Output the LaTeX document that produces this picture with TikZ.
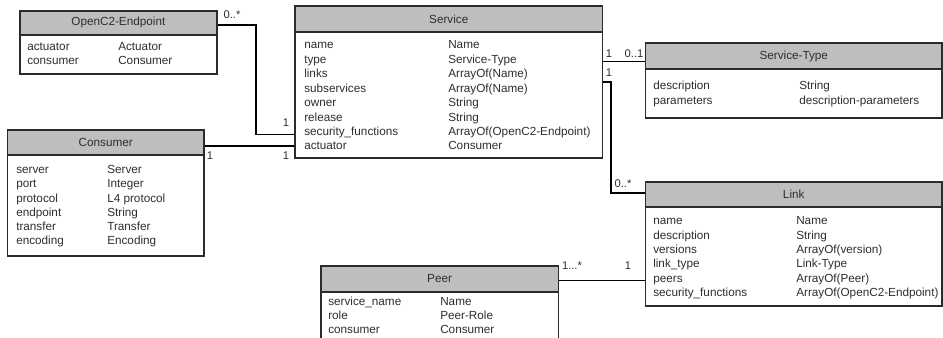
\documentclass[tikz,border=0pt]{standalone}
\usepackage{fontspec}
\setmainfont{Liberation Sans}
\usetikzlibrary{fit}

\definecolor{boxline}{HTML}{2B2B2B}
\definecolor{headgray}{HTML}{BEBEBE}
\definecolor{txt}{HTML}{2E2E2E}

% class box: name, left, top, right, header bottom, bottom, title
\newcommand\umlclass[7]{%
  \node[body, fit={(#2,#3) (#4,#6)}] (#1) {};
  \node[head, fit={(#2,#3) (#4,#5)}] (#1-head) {};
  \node[title] (#1-title) at (#1-head.center) {#7};
}
% attribute row: name, attribute x, type x, y, attribute, type
\newcommand\umlrow[6]{%
  \node[attr] (#1) at (#2,#4) {#5};
  \node[attr] (#1-t) at (#3,#4) {#6};
}

\begin{document}
\begin{tikzpicture}[x=0.75pt, y=-0.75pt,
  body/.style={draw=boxline, fill=white, line width=1.3pt, inner sep=0pt},
  head/.style={draw=boxline, fill=headgray, line width=1.3pt, inner sep=0pt},
  title/.style={font=\fontsize{8.8}{10}\selectfont, text=txt, inner sep=0pt},
  attr/.style={anchor=mid west, font=\fontsize{8.8}{10}\selectfont, text=txt, inner sep=0pt},
  mult/.style={font=\fontsize{8.4}{10}\selectfont, text=txt, inner sep=0pt},
  conn/.style={draw=black, line width=1pt}]

\useasboundingbox (0,0) rectangle (943,338);
\clip (0,0) rectangle (943,338);

% bend points of the routed associations
\coordinate (oc2-bend) at (256,25);
\coordinate (link-bend) at (611,193);

% classes
\umlclass{oc2}{20}{10.7}{216.7}{35}{74}{OpenC2-Endpoint}
\umlrow{oc2-act}{27}{118}{46.7}{actuator}{Actuator}
\umlrow{oc2-con}{27}{118}{61}{consumer}{Consumer}

\umlclass{con}{7.5}{130}{204}{155}{256}{Consumer}
\umlrow{con-srv}{16}{107}{170}{server}{Server}
\umlrow{con-port}{16}{107}{184.3}{port}{Integer}
\umlrow{con-prot}{16}{107}{198.5}{protocol}{L4 protocol}
\umlrow{con-end}{16}{107}{212.7}{endpoint}{String}
\umlrow{con-trn}{16}{107}{227}{transfer}{Transfer}
\umlrow{con-enc}{16}{107}{241}{encoding}{Encoding}

\umlclass{svc}{295}{6}{602.5}{32}{158}{Service}
\umlrow{svc-name}{304}{448}{45}{name}{Name}
\umlrow{svc-type}{304}{448}{59.5}{type}{Service-Type}
\umlrow{svc-links}{304}{448}{74}{links}{ArrayOf(Name)}
\umlrow{svc-sub}{304}{448}{88.5}{subservices}{ArrayOf(Name)}
\umlrow{svc-own}{304}{448}{103}{owner}{String}
\umlrow{svc-rel}{304}{448}{117.5}{release}{String}
\umlrow{svc-sec}{304}{448}{132}{security\_functions}{ArrayOf(OpenC2-Endpoint)}
\umlrow{svc-act}{304}{448}{146.3}{actuator}{Consumer}

\umlclass{stype}{645.5}{43.3}{942}{69}{117.7}{Service-Type}
\umlrow{stype-desc}{653}{799}{86}{description}{String}
\umlrow{stype-par}{653}{799}{100.7}{parameters}{description-parameters}

\umlclass{link}{645.5}{181.7}{942}{206.7}{305.7}{Link}
\umlrow{link-name}{653}{796}{221}{name}{Name}
\umlrow{link-desc}{653}{796}{235.5}{description}{String}
\umlrow{link-ver}{653}{796}{250}{versions}{ArrayOf(version)}
\umlrow{link-type}{653}{796}{264.3}{link\_type}{Link-Type}
\umlrow{link-peers}{653}{796}{278.7}{peers}{ArrayOf(Peer)}
\umlrow{link-sec}{653}{796}{293}{security\_functions}{ArrayOf(OpenC2-Endpoint)}

\umlclass{peer}{320.7}{265.7}{558.5}{291.7}{350}{Peer}
\umlrow{peer-svc}{328}{440}{302}{service\_name}{Name}
\umlrow{peer-role}{328}{440}{316}{role}{Peer-Role}
\umlrow{peer-con}{328}{440}{330}{consumer}{Consumer}

% associations
\draw[conn] (oc2.east |- oc2-bend) -- (oc2-bend) |- ([yshift=-1.5pt]svc.west |- svc-sec);
\draw[conn] (con.east |- svc-act) -- (svc.west |- svc-act);
\draw[conn] ([yshift=-1pt]svc.east |- svc-type) -- ([yshift=-1pt]stype.west |- svc-type);
\draw[conn] ([yshift=-6.5pt]svc.east |- svc-links) -| (link-bend) -- (link.west |- link-bend);
\draw[conn] (peer.east |- link-peers) -- (link.west |- link-peers);

% multiplicities
\node[mult] (m1) at (232,15) {0..*};
\node[mult] (m2) at (286,123) {1};
\node[mult] (m3) at (210,155.5) {1};
\node[mult] (m4) at (286,156) {1};
\node[mult] (m5) at (609,54) {1};
\node[mult] (m6) at (634,54) {0..1};
\node[mult] (m7) at (609,73) {1};
\node[mult] (m8) at (623,184) {0..*};
\node[mult] (m9) at (572,266) {1...*};
\node[mult] (m10) at (628,266) {1};
\end{tikzpicture}
\end{document}
